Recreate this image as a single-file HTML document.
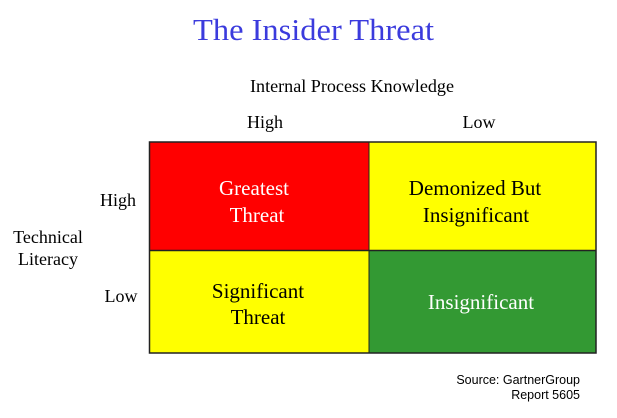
<!DOCTYPE html>
<html><head><meta charset="utf-8"><style>html,body{margin:0;padding:0;background:#fff}svg{display:block}text{font-family:"Liberation Serif","Times New Roman",serif}.s{font-family:"Liberation Sans",Arial,sans-serif}</style></head>
<body>
<svg width="617" height="418" viewBox="0 0 617 418" xmlns="http://www.w3.org/2000/svg">
<text x="313.5" y="40" font-size="31" fill="#3b3bdd" text-anchor="middle" textLength="241" lengthAdjust="spacingAndGlyphs">The Insider Threat</text>
<text x="352" y="92" font-size="18" text-anchor="middle" textLength="204" lengthAdjust="spacingAndGlyphs">Internal Process Knowledge</text>
<text x="265" y="128" font-size="18" text-anchor="middle">High</text>
<text x="479" y="128" font-size="18" text-anchor="middle">Low</text>
<text x="118" y="206" font-size="18" text-anchor="middle">High</text>
<text x="121" y="302" font-size="18" text-anchor="middle">Low</text>
<text x="48" y="243" font-size="18" text-anchor="middle">Technical</text>
<text x="48" y="265" font-size="18" text-anchor="middle">Literacy</text>
<rect x="149.5" y="142" width="219.5" height="108.5" fill="#ff0000"/>
<rect x="369" y="142" width="227" height="108.5" fill="#ffff00"/>
<rect x="149.5" y="250.5" width="219.5" height="102.5" fill="#ffff00"/>
<rect x="369" y="250.5" width="227" height="102.5" fill="#339933"/>
<rect x="149.5" y="142" width="446.5" height="211" fill="none" stroke="#222" stroke-width="1.5"/>
<line x1="369" y1="142" x2="369" y2="353" stroke="#222" stroke-width="1"/>
<line x1="149.5" y1="250.5" x2="596" y2="250.5" stroke="#222" stroke-width="1.5"/>
<g font-size="21" text-anchor="middle">
<text x="254" y="195" fill="#fff">Greatest</text>
<text x="257" y="222" fill="#fff">Threat</text>
<text x="475" y="195">Demonized But</text>
<text x="476" y="222">Insignificant</text>
<text x="258" y="298">Significant</text>
<text x="258" y="324">Threat</text>
<text x="481" y="309" fill="#fff">Insignificant</text>
</g>
<g class="s" font-size="12.5" text-anchor="end">
<text class="s" x="580" y="384">Source: GartnerGroup</text>
<text class="s" x="580" y="399">Report 5605</text>
</g>
</svg>
</body></html>
